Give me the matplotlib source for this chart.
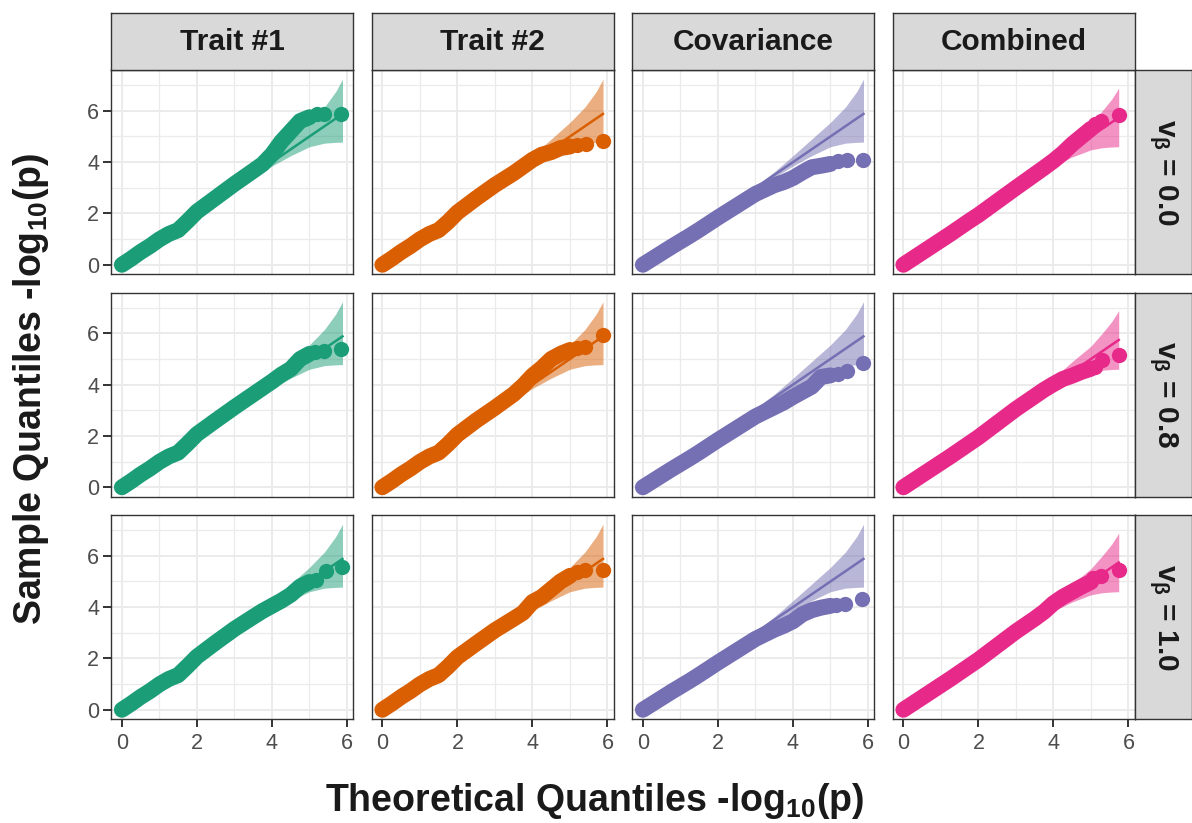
#!/usr/bin/env python

import matplotlib
matplotlib.use('Agg')
import matplotlib.pyplot as plt

W, H = 1192, 823

traits = ['Trait #1', 'Trait #2', 'Covariance', 'Combined']
vbeta = ['0.0', '0.8', '1.0']
colors = ['#1B9E77', '#D95F02', '#7570B3', '#E7298A']

qx = [0, 0.25, 0.5, 0.75, 1.0, 1.25, 1.5, 1.75, 2.0, 2.5, 3.0, 3.5, 3.75, 4.0, 4.25, 4.5, 4.75, 5.0]

# sample quantiles, v_beta = 0.0
t1_v00 = [0, 0.24, 0.5, 0.73, 0.99, 1.2, 1.35, 1.7, 2.07, 2.61, 3.15, 3.66, 3.92, 4.3, 4.8, 5.2, 5.6, 5.75]
t2_v00 = [0, 0.24, 0.5, 0.73, 0.99, 1.2, 1.35, 1.67, 2.04, 2.59, 3.11, 3.57, 3.83, 4.09, 4.29, 4.39, 4.55, 4.61]
cov_v00 = [0, 0.23, 0.46, 0.69, 0.91, 1.13, 1.36, 1.6, 1.84, 2.3, 2.76, 3.1, 3.22, 3.38, 3.6, 3.8, 3.86, 3.93]
comb_v00 = [0, 0.24, 0.48, 0.72, 0.96, 1.2, 1.45, 1.7, 1.94, 2.47, 3.0, 3.52, 3.78, 4.05, 4.35, 4.7, 5.0, 5.3]

# sample quantiles, v_beta = 0.8
t1_v08 = [0, 0.24, 0.5, 0.73, 0.99, 1.2, 1.35, 1.7, 2.07, 2.6, 3.12, 3.62, 3.87, 4.12, 4.39, 4.61, 5.0, 5.2]
t2_v08 = [0, 0.24, 0.5, 0.73, 0.99, 1.2, 1.35, 1.68, 2.05, 2.6, 3.1, 3.63, 3.96, 4.35, 4.65, 5.0, 5.2, 5.35]
cov_v08 = [0, 0.23, 0.46, 0.69, 0.91, 1.13, 1.36, 1.6, 1.84, 2.3, 2.76, 3.12, 3.3, 3.52, 3.72, 3.92, 4.3, 4.36]
comb_v08 = [0, 0.24, 0.48, 0.72, 0.96, 1.2, 1.45, 1.7, 1.95, 2.5, 3.05, 3.55, 3.8, 4.02, 4.22, 4.35, 4.5, 4.62]

# sample quantiles, v_beta = 1.0
t1_v10 = [0, 0.24, 0.5, 0.73, 0.99, 1.2, 1.35, 1.7, 2.07, 2.62, 3.15, 3.62, 3.85, 4.05, 4.25, 4.48, 4.8, 4.98]
t2_v10 = [0, 0.24, 0.5, 0.73, 0.99, 1.2, 1.35, 1.68, 2.05, 2.58, 3.1, 3.55, 3.78, 4.2, 4.4, 4.7, 5.0, 5.22]
cov_v10 = [0, 0.23, 0.46, 0.69, 0.91, 1.13, 1.36, 1.6, 1.84, 2.3, 2.76, 3.12, 3.27, 3.45, 3.72, 3.88, 3.98, 4.05]
comb_v10 = [0, 0.24, 0.48, 0.72, 0.96, 1.2, 1.45, 1.7, 1.95, 2.5, 3.05, 3.55, 3.82, 4.15, 4.4, 4.6, 4.8, 4.98]

# the last few separate points (x, y) in the upper tail
tail_t1_v00 = ([5.2, 5.4, 5.85], [5.86, 5.88, 5.86])
tail_t2_v00 = ([5.2, 5.44, 5.88], [4.65, 4.7, 4.84])
tail_cov_v00 = ([5.2, 5.43, 5.88], [4.05, 4.09, 4.09])
tail_comb_v00 = ([5.1, 5.28, 5.74], [5.5, 5.6, 5.83])
tail_t1_v08 = ([5.14, 5.4, 5.85], [5.27, 5.3, 5.4])
tail_t2_v08 = ([5.2, 5.4, 5.87], [5.42, 5.45, 5.92])
tail_cov_v08 = ([5.2, 5.43, 5.88], [4.42, 4.55, 4.84])
tail_comb_v08 = ([5.12, 5.3, 5.74], [4.7, 4.95, 5.14])
tail_t1_v10 = ([5.18, 5.45, 5.88], [5.05, 5.4, 5.57])
tail_t2_v10 = ([5.2, 5.4, 5.87], [5.35, 5.44, 5.46])
tail_cov_v10 = ([5.15, 5.39, 5.85], [4.1, 4.13, 4.31])
tail_comb_v10 = ([5.06, 5.28, 5.74], [5.14, 5.23, 5.46])

# expected line and 95% band
band_x = [0, 3.0, 3.5, 4.0, 4.5, 5.0, 5.4, 5.7, 5.88]
band_lo = [0, 2.97, 3.4, 3.85, 4.25, 4.6, 4.74, 4.77, 4.78]
band_hi = [0, 3.05, 3.62, 4.25, 4.9, 5.55, 6.15, 6.75, 7.23]
comb_band_x = [0, 3.0, 3.5, 4.0, 4.5, 5.0, 5.3, 5.55, 5.74]
comb_band_lo = [0, 2.97, 3.4, 3.85, 4.2, 4.48, 4.56, 4.59, 4.6]
comb_band_hi = [0, 3.05, 3.62, 4.25, 4.9, 5.5, 6.0, 6.45, 6.88]

body = [[t1_v00, t2_v00, cov_v00, comb_v00],
        [t1_v08, t2_v08, cov_v08, comb_v08],
        [t1_v10, t2_v10, cov_v10, comb_v10]]
tails = [[tail_t1_v00, tail_t2_v00, tail_cov_v00, tail_comb_v00],
         [tail_t1_v08, tail_t2_v08, tail_cov_v08, tail_comb_v08],
         [tail_t1_v10, tail_t2_v10, tail_cov_v10, tail_comb_v10]]

plt.rcParams['font.family'] = ['Liberation Sans', 'DejaVu Sans']
plt.rcParams['mathtext.fontset'] = 'custom'
plt.rcParams['mathtext.rm'] = 'Liberation Sans:bold'
plt.rcParams['mathtext.it'] = 'Liberation Sans:bold'
plt.rcParams['mathtext.bf'] = 'Liberation Sans:bold'
plt.rcParams['mathtext.default'] = 'rm'

PANEL_LEFT = [111, 371.5, 632, 892.5]
PANEL_TOP = [70, 292.5, 515]
PW, PH = 242, 204
STRIP = 57
BORDER = '#333333'


def box(left, top, w, h):
    return [left / W, 1 - (top + h) / H, w / W, h / H]


def draw_panel(ax, r, c):
    col = colors[c]
    if c == 3:
        bx, lo, hi = comb_band_x, comb_band_lo, comb_band_hi
    else:
        bx, lo, hi = band_x, band_lo, band_hi
    ax.fill_between(bx, lo, hi, color=col, alpha=0.5, lw=0, zorder=2)
    ax.plot([0, bx[-1]], [0, bx[-1]], color=col, lw=1.8, zorder=3)
    ax.plot(qx, body[r][c], color=col, lw=11.5, solid_capstyle='round',
            solid_joinstyle='round', zorder=4)
    tx, ty = tails[r][c]
    ax.plot(tx, ty, 'o', color=col, ms=11, mew=0, zorder=4)

    ax.set_xlim(-0.29, 6.16)
    ax.set_ylim(-0.36, 7.59)
    ax.set_xticks([0, 2, 4, 6])
    ax.set_xticks([1, 3, 5], minor=True)
    ax.set_yticks([0, 2, 4, 6])
    ax.set_yticks([1, 3, 5, 7], minor=True)
    ax.grid(which='major', color='#EBEBEB', lw=1.4)
    ax.grid(which='minor', color='#EBEBEB', lw=0.9)
    ax.set_axisbelow(True)
    for s in ax.spines.values():
        s.set_color(BORDER)
        s.set_linewidth(1.0)
    ax.tick_params(which='minor', length=0)
    ax.tick_params(which='major', length=6, width=1.4, color=BORDER,
                   labelsize=15.5, labelcolor='#4D4D4D')
    ax.tick_params(axis='y', pad=2.5)
    ax.tick_params(axis='x', pad=4)
    if c != 0:
        ax.tick_params(axis='y', length=0, labelleft=False)
    if r != 2:
        ax.tick_params(axis='x', length=0, labelbottom=False)


def strip(fig, rect, label, rotation=0):
    sax = fig.add_axes(rect)
    sax.set_facecolor('#D9D9D9')
    sax.set_xticks([])
    sax.set_yticks([])
    for s in sax.spines.values():
        s.set_color(BORDER)
        s.set_linewidth(1.0)
    sax.text(0.5, 0.5, label, transform=sax.transAxes, ha='center', va='center',
             fontsize=21.5, fontweight='bold', color='#1A1A1A', rotation=rotation)


def main():
    fig = plt.figure(figsize=(W / 100, H / 100), dpi=100)

    for r in range(3):
        for c in range(4):
            ax = fig.add_axes(box(PANEL_LEFT[c], PANEL_TOP[r], PW, PH))
            draw_panel(ax, r, c)

    for c in range(4):
        strip(fig, box(PANEL_LEFT[c], PANEL_TOP[0] - STRIP, PW, STRIP), traits[c])
    for r in range(3):
        strip(fig, box(PANEL_LEFT[3] + PW, PANEL_TOP[r], STRIP, PH),
              r'v$_{\beta}$ = ' + vbeta[r], rotation=-90)

    fig.text(595 / W, 1 - 801 / H, r'Theoretical Quantiles -log$_{10}$(p)',
             ha='center', va='center', fontsize=27, fontweight='bold', color='#1A1A1A')
    fig.text(31 / W, 1 - 389 / H, r'Sample Quantiles -log$_{10}$(p)',
             ha='center', va='center', rotation=90, fontsize=27, fontweight='bold',
             color='#1A1A1A')

    fig.savefig('out.png', dpi=100)


if __name__ == '__main__':
    main()
